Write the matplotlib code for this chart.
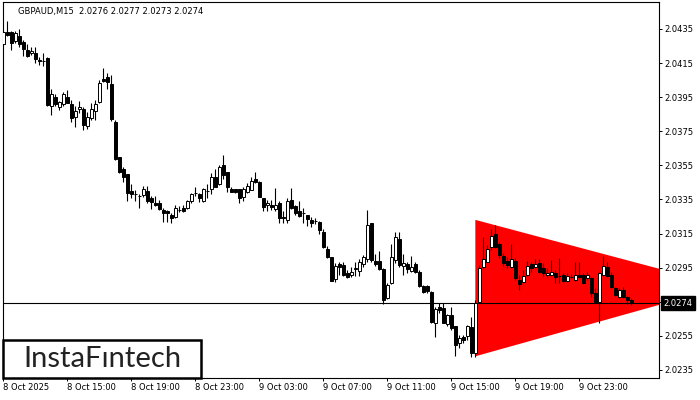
import matplotlib.pyplot as plt
from matplotlib.patches import Rectangle
from matplotlib.transforms import blended_transform_factory

# GBPAUD M15 candles (one entry per bar)
opens = [2.04262, 2.04332, 2.04331, 2.04280, 2.04311, 2.04272, 2.04227, 2.04207, 2.04207, 2.04166,
         2.04164, 2.04178, 2.03898, 2.03953, 2.03894, 2.03908, 2.03953, 2.03908, 2.03836, 2.03879,
         2.03881, 2.03781, 2.03826, 2.03869, 2.03924, 2.04055, 2.04067, 2.04026, 2.03806, 2.03598,
         2.03527, 2.03498, 2.03400, 2.03382, 2.03372, 2.03376, 2.03400, 2.03357, 2.03329, 2.03328,
         2.03288, 2.03283, 2.03259, 2.03246, 2.03288, 2.03298, 2.03298, 2.03341, 2.03386, 2.03381,
         2.03341, 2.03400, 2.03410, 2.03484, 2.03439, 2.03552, 2.03509, 2.03414, 2.03410, 2.03410,
         2.03366, 2.03396, 2.03408, 2.03468, 2.03451, 2.03357, 2.03316, 2.03318, 2.03296, 2.03331,
         2.03246, 2.03230, 2.03347, 2.03312, 2.03283, 2.03269, 2.03259, 2.03230, 2.03226, 2.03216,
         2.03157, 2.03059, 2.03010, 2.02884, 2.02972, 2.02966, 2.02917, 2.02907, 2.02944, 2.02931,
         2.02972, 2.02999, 2.03210, 2.02989, 2.02989, 2.02944, 2.02771, 2.02858, 2.02995, 2.03118,
         2.02960, 2.02972, 2.02931, 2.02972, 2.02925, 2.02843, 2.02843, 2.02809, 2.02627, 2.02718,
         2.02712, 2.02618, 2.02673, 2.02608, 2.02507, 2.02546, 2.02550, 2.02604, 2.02448, 2.02751,
         2.02956, 2.02985, 2.03070, 2.03146, 2.03087, 2.03019, 2.02989, 2.02956, 2.02989, 2.02878,
         2.02868, 2.02907, 2.02972, 2.02956, 2.02979, 2.02947, 2.02907, 2.02907, 2.02917, 2.02903,
         2.02907, 2.02874, 2.02897, 2.02878, 2.02907, 2.02907, 2.02890, 2.02888, 2.02803, 2.02751,
         2.02907, 2.02956, 2.02907, 2.02829, 2.02780, 2.02819, 2.02776, 2.02760]

highs = [2.04344, 2.04399, 2.04338, 2.04340, 2.04348, 2.04285, 2.04260, 2.04244, 2.04246, 2.04188,
         2.04209, 2.04186, 2.03996, 2.03969, 2.03928, 2.03982, 2.03992, 2.03934, 2.03898, 2.03928,
         2.03894, 2.03865, 2.03914, 2.03934, 2.04051, 2.04120, 2.04090, 2.04080, 2.03816, 2.03601,
         2.03539, 2.03498, 2.03441, 2.03406, 2.03381, 2.03429, 2.03429, 2.03371, 2.03371, 2.03347,
         2.03298, 2.03288, 2.03269, 2.03318, 2.03312, 2.03318, 2.03347, 2.03386, 2.03425, 2.03386,
         2.03416, 2.03439, 2.03507, 2.03527, 2.03552, 2.03611, 2.03509, 2.03425, 2.03410, 2.03410,
         2.03422, 2.03445, 2.03484, 2.03513, 2.03460, 2.03357, 2.03347, 2.03347, 2.03416, 2.03341,
         2.03283, 2.03357, 2.03416, 2.03318, 2.03341, 2.03298, 2.03259, 2.03246, 2.03240, 2.03226,
         2.03177, 2.03077, 2.03013, 2.02976, 2.02985, 2.02985, 2.02937, 2.02956, 2.02985, 2.02999,
         2.03025, 2.03288, 2.03214, 2.03031, 2.03048, 2.02948, 2.02860, 2.03089, 2.03161, 2.03161,
         2.03031, 2.02985, 2.03019, 2.02983, 2.02937, 2.02849, 2.02849, 2.02813, 2.02721, 2.02741,
         2.02741, 2.02678, 2.02721, 2.02608, 2.02555, 2.02555, 2.02614, 2.02663, 2.02761, 2.02966,
         2.03128, 2.03083, 2.03175, 2.03200, 2.03103, 2.03034, 2.03015, 2.03089, 2.03007, 2.02907,
         2.02937, 2.02989, 2.02985, 2.02999, 2.02999, 2.02976, 2.02947, 2.02995, 2.02937, 2.03005,
         2.02917, 2.02917, 2.02913, 2.02985, 2.02983, 2.02917, 2.02927, 2.02897, 2.02829, 2.02925,
         2.03020, 2.02985, 2.02927, 2.02839, 2.02829, 2.02839, 2.02784, 2.02770]

lows = [2.04256, 2.04309, 2.04227, 2.04270, 2.04246, 2.04192, 2.04188, 2.04198, 2.04152, 2.04139,
        2.04133, 2.03898, 2.03846, 2.03898, 2.03875, 2.03898, 2.03914, 2.03806, 2.03777, 2.03857,
        2.03758, 2.03762, 2.03816, 2.03816, 2.03914, 2.04041, 2.03996, 2.03812, 2.03582, 2.03507,
        2.03454, 2.03343, 2.03357, 2.03343, 2.03298, 2.03366, 2.03328, 2.03296, 2.03312, 2.03288,
        2.03216, 2.03216, 2.03210, 2.03240, 2.03278, 2.03278, 2.03293, 2.03328, 2.03371, 2.03337,
        2.03337, 2.03357, 2.03382, 2.03425, 2.03435, 2.03468, 2.03396, 2.03396, 2.03386, 2.03328,
        2.03343, 2.03390, 2.03406, 2.03445, 2.03366, 2.03284, 2.03284, 2.03288, 2.03284, 2.03214,
        2.03210, 2.03210, 2.03293, 2.03259, 2.03246, 2.03214, 2.03196, 2.03187, 2.03206, 2.03146,
        2.03064, 2.03009, 2.02872, 2.02868, 2.02907, 2.02901, 2.02888, 2.02894, 2.02901, 2.02901,
        2.02956, 2.02983, 2.02983, 2.02960, 2.02937, 2.02735, 2.02766, 2.02854, 2.02976, 2.02956,
        2.02907, 2.02917, 2.02925, 2.02917, 2.02837, 2.02800, 2.02800, 2.02627, 2.02545, 2.02683,
        2.02624, 2.02608, 2.02585, 2.02434, 2.02477, 2.02510, 2.02526, 2.02428, 2.02428, 2.02745,
        2.02948, 2.02983, 2.03054, 2.03066, 2.03007, 2.02960, 2.02948, 2.02948, 2.02878, 2.02819,
        2.02859, 2.02901, 2.02927, 2.02948, 2.02917, 2.02901, 2.02895, 2.02901, 2.02859, 2.02859,
        2.02868, 2.02868, 2.02888, 2.02872, 2.02888, 2.02854, 2.02878, 2.02780, 2.02741, 2.02624,
        2.02901, 2.02895, 2.02829, 2.02784, 2.02771, 2.02771, 2.02735, 2.02730]

closes = [2.04334, 2.04317, 2.04266, 2.04325, 2.04260, 2.04231, 2.04192, 2.04219, 2.04176, 2.04164,
          2.04164, 2.03904, 2.03967, 2.03908, 2.03924, 2.03967, 2.03918, 2.03826, 2.03869, 2.03891,
          2.03787, 2.03836, 2.03879, 2.03908, 2.04035, 2.04045, 2.04037, 2.03820, 2.03586, 2.03513,
          2.03484, 2.03386, 2.03382, 2.03382, 2.03372, 2.03410, 2.03343, 2.03337, 2.03316, 2.03294,
          2.03269, 2.03269, 2.03240, 2.03298, 2.03288, 2.03284, 2.03343, 2.03381, 2.03386, 2.03357,
          2.03410, 2.03400, 2.03484, 2.03425, 2.03539, 2.03494, 2.03425, 2.03396, 2.03396, 2.03357,
          2.03410, 2.03429, 2.03460, 2.03451, 2.03366, 2.03308, 2.03331, 2.03306, 2.03316, 2.03240,
          2.03240, 2.03341, 2.03298, 2.03269, 2.03253, 2.03269, 2.03236, 2.03214, 2.03226, 2.03171,
          2.03070, 2.03015, 2.02874, 2.02962, 2.02956, 2.02907, 2.02894, 2.02927, 2.02947, 2.02985,
          2.03015, 2.03200, 2.02995, 2.02972, 2.02941, 2.02761, 2.02849, 2.03011, 2.03128, 2.02966,
          2.02978, 2.02941, 2.02956, 2.02927, 2.02843, 2.02809, 2.02815, 2.02633, 2.02706, 2.02702,
          2.02624, 2.02673, 2.02595, 2.02497, 2.02536, 2.02526, 2.02608, 2.02452, 2.02745, 2.02950,
          2.02999, 2.03058, 2.03136, 2.03073, 2.03025, 2.02976, 2.02966, 2.02999, 2.02888, 2.02854,
          2.02901, 2.02960, 2.02947, 2.02972, 2.02927, 2.02917, 2.02921, 2.02927, 2.02897, 2.02903,
          2.02874, 2.02901, 2.02897, 2.02907, 2.02897, 2.02859, 2.02907, 2.02800, 2.02745, 2.02917,
          2.02960, 2.02901, 2.02839, 2.02790, 2.02819, 2.02776, 2.02760, 2.02740]

time_labels = ['8 Oct 2025', '8 Oct 15:00', '8 Oct 19:00', '8 Oct 23:00', '9 Oct 03:00',
               '9 Oct 07:00', '9 Oct 11:00', '9 Oct 15:00', '9 Oct 19:00', '9 Oct 23:00']
bars_per_label = 16
price_ticks = [2.0235, 2.0255, 2.0275, 2.0295, 2.0315, 2.0335, 2.0355, 2.0375, 2.0395, 2.0415, 2.0435]
current_price = 2.0274
header = 'GBPAUD,M15  2.0276 2.0277 2.0273 2.0274'

# bearish pennant (triangle) drawn on the chart
tri_start_bar = 118
tri_upper = 2.0323
tri_lower = 2.0243
tri_apex_bar = 180.5
tri_apex_price = 2.0284

fig = plt.figure(figsize=(7, 4), dpi=100)
ax = fig.add_axes([0.0039, 0.0543, 0.938, 0.9407])

n = len(closes)
idx = list(range(n))

# triangle
ax.fill([tri_start_bar, tri_apex_bar, tri_start_bar],
        [tri_upper, tri_apex_price, tri_lower],
        color='#ff0000', lw=0, zorder=1)

# current price line
ax.axhline(current_price, color='black', lw=0.8, zorder=2)

# candles
ax.vlines(idx, lows, highs, color='black', lw=0.8, zorder=3)
bottoms = [min(o, c) for o, c in zip(opens, closes)]
heights = [abs(c - o) for o, c in zip(opens, closes)]
faces = ['white' if c > o else 'black' for o, c in zip(opens, closes)]
ax.bar(idx, heights, bottom=bottoms, width=0.6, color=faces,
       edgecolor='black', linewidth=0.7, zorder=4)

ax.set_xlim(-0.15, 164.0)
ax.set_ylim(2.02301, 2.04508)

# axes styling
for s in ax.spines.values():
    s.set_linewidth(0.8)
    s.set_color('black')
ax.yaxis.tick_right()
ax.set_yticks(price_ticks)
ax.set_yticklabels(['%.4f' % p for p in price_ticks])
ax.set_xticks([i * bars_per_label for i in range(len(time_labels))])
ax.set_xticklabels(time_labels)
for lbl in ax.get_xticklabels():
    lbl.set_ha('left')
ax.tick_params(axis='both', length=2, width=0.7, pad=1.5, labelsize=6, colors='black')

ax.text(0.023, 0.988, header, transform=ax.transAxes, va='top', ha='left',
        fontsize=6, color='black')

# current price tag on the right axis
trans = blended_transform_factory(ax.transAxes, ax.transData)
ax.annotate('%.4f' % current_price, xy=(1, current_price), xycoords=trans,
            xytext=(3, 0), textcoords='offset points', va='center', ha='left',
            fontsize=6, color='white', annotation_clip=False,
            bbox=dict(boxstyle='square,pad=0.3', fc='black', ec='black'))

# logo box
fig.patches.append(Rectangle((3 / 700, 1 - 378 / 400), 198 / 700, 38 / 400,
                             transform=fig.transFigure, facecolor='white',
                             edgecolor='black', lw=1.8, zorder=5))
fig.text(102 / 700, 1 - 359 / 400, 'InstaF\u0131ntech', ha='center', va='center',
         fontsize=21, family=['Lato', 'DejaVu Sans'], color='#222222', zorder=6)

fig.savefig('out.png', dpi=100)
